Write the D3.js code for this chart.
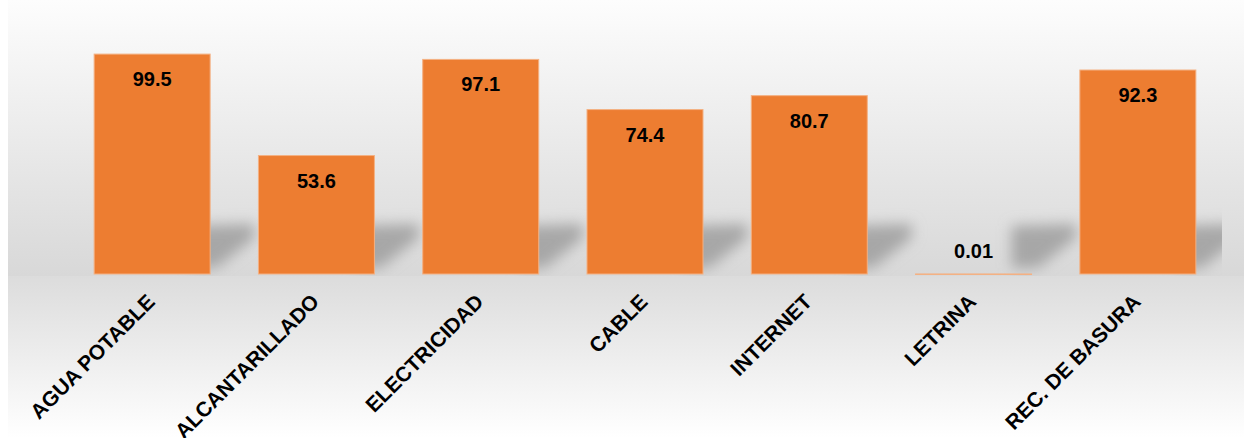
<!DOCTYPE html>
<html>
  <head>
    <meta charset="utf-8">
    <title>Servicios</title>
    <script src="https://d3js.org/d3.v7.min.js"></script>
    <style>
      body { margin: 0; background: #fff; }
      text { font-family: "Liberation Sans", Arial, sans-serif; font-weight: bold; fill: #000; }
    </style>
  </head>
  <body>
    <script>
      var width = 1244;
      var height = 438;

      var categories = ["AGUA POTABLE", "ALCANTARILLADO", "ELECTRICIDAD", "CABLE", "INTERNET", "LETRINA", "REC. DE BASURA"];
      var values = [99.5, 53.6, 97.1, 74.4, 80.7, 0.01, 92.3];
      var valueLabels = ["99.5", "53.6", "97.1", "74.4", "80.7", "0.01", "92.3"];

      var baseY = 274;
      var wallRight = 1222;

      var xScale = d3.scaleBand()
          .domain(categories)
          .range([70, 1220])
          .paddingInner(0.294)
          .paddingOuter(0.147);

      var yScale = d3.scaleLinear()
          .domain([0, 100])
          .range([baseY, 53]);

      var svg = d3.select("body")
        .append("svg")
          .attr("width", width)
          .attr("height", height);

      var defs = svg.append("defs");

      var wallGrad = defs.append("linearGradient")
          .attr("id", "wall").attr("x1", 0).attr("y1", 0).attr("x2", 0).attr("y2", 1);
      wallGrad.append("stop").attr("offset", "0%").attr("stop-color", "#fdfdfd");
      wallGrad.append("stop").attr("offset", "100%").attr("stop-color", "#d8d8d8");

      var floorGrad = defs.append("linearGradient")
          .attr("id", "floor").attr("x1", 0).attr("y1", 0).attr("x2", 0).attr("y2", 1);
      floorGrad.append("stop").attr("offset", "0%").attr("stop-color", "#dcdcdc");
      floorGrad.append("stop").attr("offset", "100%").attr("stop-color", "#ffffff");

      defs.append("filter").attr("id", "blur")
          .attr("x", "-50%").attr("y", "-50%").attr("width", "200%").attr("height", "200%")
        .append("feGaussianBlur").attr("stdDeviation", 7);

      defs.append("clipPath").attr("id", "wallClip")
        .append("rect")
          .attr("x", 8).attr("y", 0)
          .attr("width", wallRight - 8).attr("height", baseY + 2);

      // background: wall and floor
      svg.append("rect")
          .attr("x", 8).attr("y", 0)
          .attr("width", width - 8).attr("height", baseY + 2)
          .attr("fill", "url(#wall)");
      svg.append("rect")
          .attr("x", 8).attr("y", baseY + 2)
          .attr("width", width - 8).attr("height", height - baseY - 2)
          .attr("fill", "url(#floor)");

      // soft shadows to the right of each bar
      var shadows = svg.append("g").attr("clip-path", "url(#wallClip)")
          .append("g").attr("filter", "url(#blur)");

      shadows.selectAll("path")
        .data(categories)
        .enter()
        .append("path")
          .attr("fill", "#9e9e9e")
          .attr("opacity", 0.85)
          .attr("d", function(d) {
            var x1 = xScale(d) + xScale.bandwidth();
            var gap = xScale.step() - xScale.bandwidth();
            return "M" + (x1 - 20) + "," + 226 +
                   "L" + (x1 + gap - 4) + "," + 224 +
                   "L" + (x1 + gap - 4) + "," + 238 +
                   "L" + (x1 + 6) + "," + 268 +
                   "L" + (x1 - 20) + "," + 268 + "Z";
          });

      // bars
      svg.append("g")
        .selectAll("rect")
        .data(categories)
        .enter()
        .append("rect")
          .attr("x", function(d) { return xScale(d); })
          .attr("y", function(d, i) { return yScale(values[i]); })
          .attr("width", xScale.bandwidth())
          .attr("height", function(d, i) { return Math.max(0.5, baseY - yScale(values[i])); })
          .attr("fill", "#ed7d31")
          .attr("stroke", "#f4b183")
          .attr("stroke-width", 1);

      // value labels
      svg.append("g")
        .selectAll("text")
        .data(categories)
        .enter()
        .append("text")
          .attr("x", function(d) { return xScale(d) + xScale.bandwidth() / 2; })
          .attr("y", function(d, i) {
            var top = yScale(values[i]);
            return (baseY - top) > 40 ? top + 32 : top - 16;
          })
          .attr("text-anchor", "middle")
          .style("font-size", "20px")
          .text(function(d, i) { return valueLabels[i]; });

      // category labels
      svg.append("g")
        .selectAll("text")
        .data(categories)
        .enter()
        .append("text")
          .attr("text-anchor", "end")
          .attr("transform", function(d) {
            var cx = xScale(d) + xScale.bandwidth() / 2 + 4;
            return "translate(" + cx + "," + 303 + ") rotate(-45)";
          })
          .style("font-size", "21px")
          .text(function(d) { return d; });
    </script>
  </body>
</html>
